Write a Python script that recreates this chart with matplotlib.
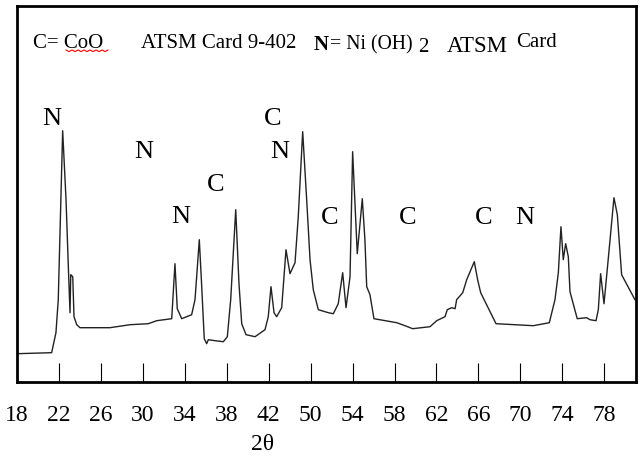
import matplotlib
matplotlib.use("Agg")
import matplotlib.pyplot as plt
import numpy as np

plt.rcParams['font.family'] = ['Liberation Serif', 'DejaVu Serif']

# --- data (x in the chart's linear axis units, intensity in a.u.) ---
two_theta = [18.0, 21.33, 21.74, 21.96, 22.38, 22.70, 22.92, 23.08, 23.15, 23.34,
             23.46, 23.72, 24.03, 26.89, 28.80, 30.54, 31.34, 32.77, 33.08, 33.30,
             33.72, 34.67, 34.99, 35.40, 35.63, 35.87, 36.10, 36.26, 36.89, 37.69,
             38.07, 38.39, 38.87, 39.18, 39.44, 39.85, 40.71, 41.66, 41.97, 42.23,
             42.52, 42.77, 43.25, 43.66, 44.04, 44.52, 44.83, 45.25, 45.63, 45.95,
             46.26, 46.74, 47.69, 48.17, 48.64, 49.06, 49.38, 49.76, 50.01, 50.45,
             50.93, 51.18, 51.35, 51.66, 52.04, 54.21, 55.00, 55.73, 57.38, 58.02,
             58.81, 59.03, 59.45, 59.77, 59.92, 60.50, 60.88, 61.60, 61.92, 62.21,
             63.67, 67.22, 68.75, 69.29, 69.61, 69.86, 70.08, 70.31, 70.56, 70.72,
             71.41, 72.31, 72.62, 73.20, 73.42, 73.64, 73.96, 74.27, 74.91, 75.23,
             75.64, 76.91]
intensity = [28, 29, 49, 82, 251, 182, 115, 69, 107, 105,
             65, 57, 54, 54, 57, 58, 61, 63, 118, 73,
             63, 67, 82, 142, 95, 43, 38, 42, 41, 40,
             45, 82, 172, 98, 58, 47, 45, 52, 65, 95,
             69, 65, 74, 132, 108, 119, 165, 250, 182, 122,
             92, 72, 69, 68, 78, 109, 74, 105, 230, 128,
             183, 142, 95, 87, 63, 59, 56, 53, 55, 61,
             65, 72, 74, 73, 82, 89, 102, 120, 102, 89,
             58, 56, 59, 82, 109, 155, 122, 138, 125, 90,
             63, 64, 62, 61, 72, 108, 78, 112, 184, 167,
             107, 82]

tick_pos = [18, 22, 26, 30, 34, 38, 42, 46, 50, 54, 58, 62, 66, 70, 74]
tick_labels = ['18', '22', '26', '30', '34', '38', '42', '50', '54', '58',
               '62', '66', '70', '74', '78']

peak_labels = ['N', 'N', 'N', 'C', 'C', 'N', 'C', 'C', 'C', 'N']
peak_x = [21.36, 30.13, 33.63, 36.99, 42.39, 43.09, 47.85, 55.22, 62.46, 66.43]
peak_y = [262.7, 230, 164.4, 196.7, 262.4, 230, 163.4, 163.4, 163.4, 163.4]

fig = plt.figure(figsize=(6.44, 4.58), dpi=100)
ax = fig.add_axes([16.7/644, 1-381.7/458, (636-16.7)/644, (381.7-6)/458])

ax.plot(two_theta, intensity, color='#222222', lw=1.0)
ax.set_xlim(18.0, 77.01)
ax.set_ylim(0, 375.7)

for s in ax.spines.values():
    s.set_linewidth(2.0)
    s.set_color('black')

ax.set_xticks(tick_pos)
ax.set_xticklabels(tick_labels, fontsize=17)
ax.tick_params(axis='x', direction='in', length=13.7, width=0.8, pad=17)
ax.set_yticks([])

for lab, x, y in zip(peak_labels, peak_x, peak_y):
    ax.text(x, y, lab, fontsize=19, ha='center', va='center')

# legend-like header text
fs = 15
def fx(px):
    return px / 644
def fy(py):
    return 1 - py / 458
fig.text(fx(33), fy(48), 'C= CoO', fontsize=fs, ha='left', va='baseline')
fig.text(fx(141), fy(48), 'ATSM Card 9-402', fontsize=fs, ha='left', va='baseline')
fig.text(fx(314), fy(49.5), 'N', fontsize=fs, ha='left', va='baseline', fontweight='bold')
fig.text(fx(330), fy(49.5), '= Ni (OH)', fontsize=14.2, ha='left', va='baseline')
fig.text(fx(418), fy(52.5), '2', fontsize=fs, ha='left', va='baseline')
fig.text(fx(447), fy(52.5), 'ATSM', fontsize=16.5, ha='left', va='baseline')
fig.text(fx(516), fy(47), 'Card', fontsize=fs, ha='left', va='baseline')

# red spell-check squiggle under "CoO"
sq_x = np.linspace(66, 108, 15)
sq_y = 50 + np.where(np.arange(15) % 2 == 0, 0, 1.6)
fig.add_artist(plt.Line2D(fx(sq_x), fy(sq_y), color='red', lw=0.8,
                          transform=fig.transFigure))

fig.text(263/644, 1-445/458, '2θ', fontsize=17, ha='center', va='center')

fig.savefig('out.png', dpi=100)
